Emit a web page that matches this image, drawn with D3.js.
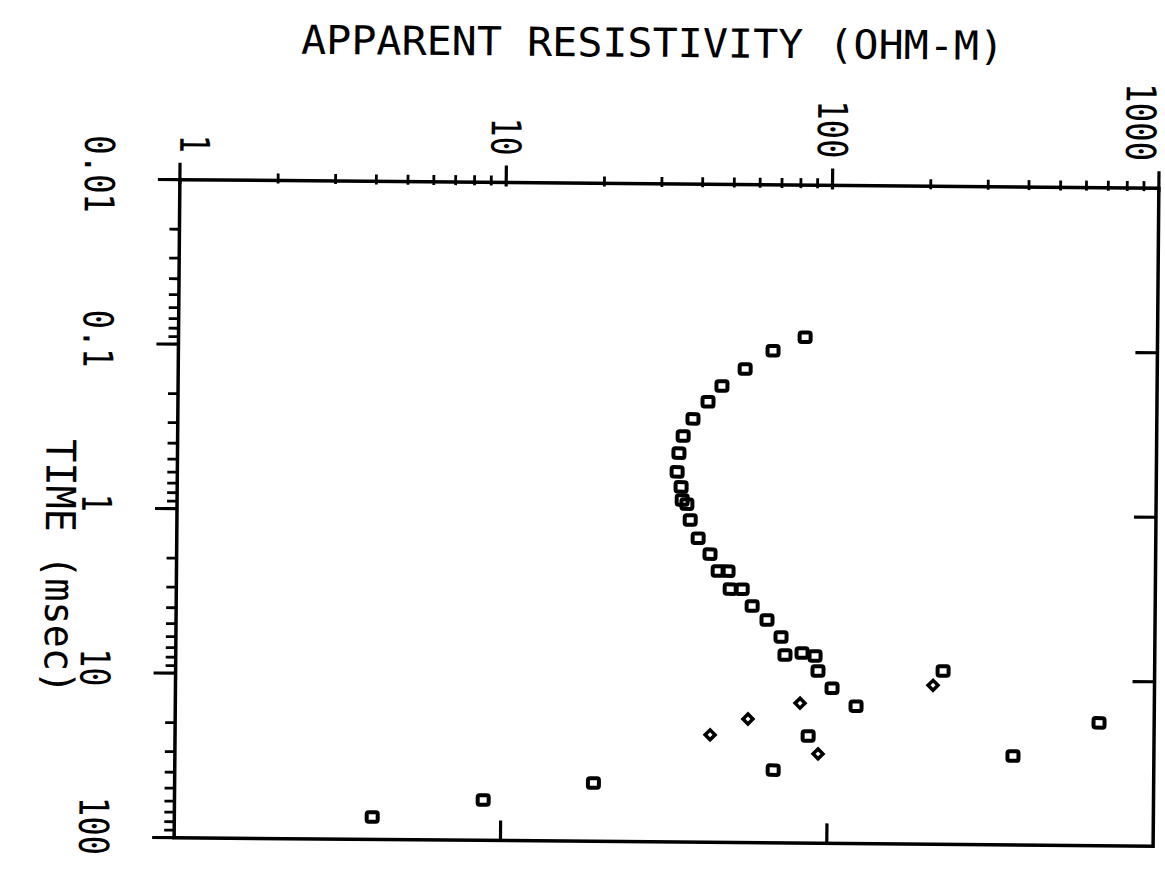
<!DOCTYPE html>
<html><head><meta charset="utf-8">
<script src="https://cdn.jsdelivr.net/npm/d3@7"></script>
<style>body{margin:0;background:#fff}svg{display:block}</style></head>
<body>
<script>
// ---- data ----
const titleText = "APPARENT RESISTIVITY (OHM-M)";
const timeLabelText = "TIME (msec)";
const resTicks = [1, 10, 100, 1000];
const resTickLabels = ["1", "10", "100", "1000"];
const timeTicks = [0.01, 0.1, 1, 10, 100];
const timeTickLabels = ["0.01", "0.1", "1", "10", "100"];

// squares: time (msec) and apparent resistivity (ohm-m)
const squareTime = [0.084, 0.102, 0.132, 0.168, 0.210, 0.267, 0.340, 0.432, 0.562, 0.693,
  0.832, 0.881, 1.10, 1.42, 1.77, 2.24, 2.24, 2.88, 2.88, 3.64, 4.42, 5.59, 7.20, 6.98, 7.27,
  8.97, 11.4, 14.6, 22.3, 36.1, 44.2, 56.8, 73.1, 8.83, 17.9, 28.8];
const squareRes = [83.2, 66.4, 54.6, 46.4, 42.1, 37.9, 35.4, 34.4, 34.0, 35.0,
  35.3, 36.5, 37.4, 39.6, 43.1, 45.7, 49.0, 49.8, 54.2, 58.2, 64.7, 71.5, 73.6, 83.0, 91.0,
  93.0, 102.8, 121.9, 87.1, 68.2, 19.2, 8.83, 4.04, 224.8, 677.7, 370];
// diamonds
const diamondTime = [14.1, 17.7, 22.2, 28.6, 10.8];
const diamondRes = [82.1, 56.9, 43.6, 93.5, 209.6];

// ---- layout ----
const W = 1165, H = 871;
const svg = d3.select("body").append("svg").attr("width", W).attr("height", H);
const g = svg.append("g").attr("transform", "rotate(0.5,670,512)");

const x = d3.scaleLog().domain([1, 1000]).range([177, 1156]);
const y = d3.scaleLog().domain([0.01, 100]).range([184, 842]);
const x0 = x.range()[0], x1 = x.range()[1], y0 = y.range()[0], y1 = y.range()[1];

const ink = "#000";
const font = "'DejaVu Sans Mono', monospace";

// frame
g.append("rect").attr("x", x0).attr("y", y0).attr("width", x1 - x0).attr("height", y1 - y0)
  .attr("fill", "none").attr("stroke", ink).attr("stroke-width", 3.5);

// top axis minor + major ticks
const resMinor = [];
for (let d = 1; d < 1000; d *= 10) for (let k = 2; k <= 9; k++) resMinor.push(d * k);
g.selectAll(".tmin").data(resMinor).join("line")
  .attr("x1", d => x(d)).attr("x2", d => x(d)).attr("y1", y0 - 7).attr("y2", y0 + 3)
  .attr("stroke", ink).attr("stroke-width", 2.8);
g.selectAll(".tmaj").data(resTicks).join("line")
  .attr("x1", d => x(d)).attr("x2", d => x(d)).attr("y1", y0 - 17).attr("y2", y0 + 4)
  .attr("stroke", ink).attr("stroke-width", 3.2);

// left axis minor + major ticks
const timeMinor = [];
for (let d = 0.01; d < 99; d *= 10) for (let k = 2; k <= 9; k++) timeMinor.push(d * k);
g.selectAll(".lmin").data(timeMinor).join("line")
  .attr("x1", x0 - 10).attr("x2", x0).attr("y1", d => y(d)).attr("y2", d => y(d))
  .attr("stroke", ink).attr("stroke-width", 2.8);
g.selectAll(".lmaj").data(timeTicks).join("line")
  .attr("x1", x0 - 22).attr("x2", x0).attr("y1", d => y(d)).attr("y2", d => y(d))
  .attr("stroke", ink).attr("stroke-width", 3.2);

// right axis inner ticks
g.selectAll(".rmaj").data(timeTicks.slice(1, 4)).join("line")
  .attr("x1", x1 - 22).attr("x2", x1).attr("y1", d => y(d)).attr("y2", d => y(d))
  .attr("stroke", ink).attr("stroke-width", 3.2);

// bottom axis inner ticks
g.selectAll(".bmaj").data(resTicks.slice(1, 3)).join("line")
  .attr("x1", d => x(d)).attr("x2", d => x(d)).attr("y1", y1 - 20).attr("y2", y1)
  .attr("stroke", ink).attr("stroke-width", 3.2);

// top tick labels (rotated)
const capH = 30;
const topShift = [15, 0, 0, -18];
g.selectAll(".tlab").data(resTicks).join("text")
  .attr("transform", (d, i) => `translate(${x(d) - capH / 2 + topShift[i]},${y0 - 27}) rotate(90)`)
  .attr("text-anchor", "end")
  .attr("font-family", font).attr("font-size", 41).attr("fill", ink)
  .attr("textLength", (d, i) => resTickLabels[i].length * 20 - 2)
  .attr("lengthAdjust", "spacingAndGlyphs")
  .text((d, i) => resTickLabels[i]);

// left tick labels (rotated)
const leftShift = [-5, -5, -5, -5, -11];
g.selectAll(".llab").data(timeTicks).join("text")
  .attr("transform", (d, i) => `translate(82,${y(d) + leftShift[i]}) rotate(90)`)
  .attr("text-anchor", "middle")
  .attr("font-family", font).attr("font-size", 41).attr("fill", ink)
  .attr("textLength", (d, i) => timeTickLabels[i].length * 20 - 2)
  .attr("lengthAdjust", "spacingAndGlyphs")
  .text((d, i) => timeTickLabels[i]);

// title
g.append("text").attr("x", 297).attr("y", 57)
  .attr("font-family", font).attr("font-size", 40).attr("fill", ink)
  .attr("textLength", 703).attr("lengthAdjust", "spacingAndGlyphs")
  .text(titleText);

// time axis title (rotated)
g.append("text").attr("transform", `translate(46,572) rotate(90)`)
  .attr("text-anchor", "middle")
  .attr("font-family", font).attr("font-size", 41).attr("fill", ink)
  .attr("textLength", 255).attr("lengthAdjust", "spacingAndGlyphs")
  .text(timeLabelText);

// markers
const sq = squareTime.map((t, i) => ({t, r: squareRes[i]}));
const dm = diamondTime.map((t, i) => ({t, r: diamondRes[i]}));
g.selectAll(".sq").data(sq).join("rect")
  .attr("x", d => x(d.r) - 5.5).attr("y", d => y(d.t) - 4.75)
  .attr("width", 11).attr("height", 9.5).attr("rx", 2)
  .attr("fill", "none").attr("stroke", ink).attr("stroke-width", 4);
g.selectAll(".dm").data(dm).join("rect")
  .attr("x", -3.5).attr("y", -3.5).attr("width", 7).attr("height", 7)
  .attr("transform", d => `translate(${x(d.r)},${y(d.t)}) rotate(45)`)
  .attr("fill", "none").attr("stroke", ink).attr("stroke-width", 3.5);
</script>
</body></html>
